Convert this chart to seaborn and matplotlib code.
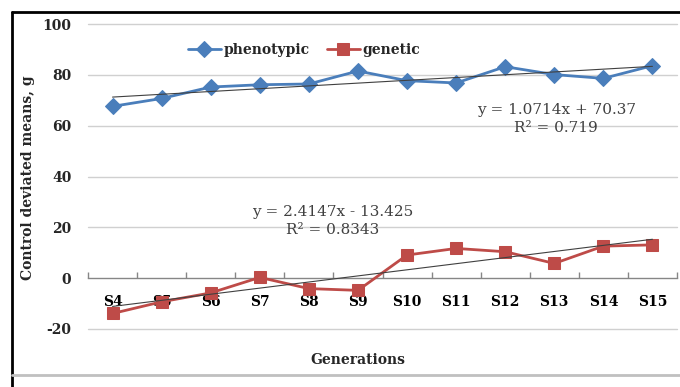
import numpy as np
import pandas as pd
import matplotlib
matplotlib.use("Agg")
import matplotlib.pyplot as plt
from matplotlib.lines import Line2D
import seaborn as sns

generations = ["S4", "S5", "S6", "S7", "S8", "S9", "S10", "S11", "S12", "S13", "S14", "S15"]
phenotypic = [67.6, 70.7, 75.2, 76.1, 76.4, 81.5, 77.7, 76.8, 83.2, 80.1, 78.6, 83.6]
genetic = [-13.9, -9.3, -5.8, 0.3, -4.1, -4.8, 9.1, 11.7, 10.4, 5.8, 12.6, 13.1]
yticks = [-20, 0, 20, 40, 60, 80, 100]

sns.set_theme(style="white")
plt.rcParams["font.family"] = ["DejaVu Serif"]

blue = "#4A7EBB"
red = "#BE4B48"

fig = plt.figure(figsize=(6.8, 3.87), dpi=100)
ax = fig.add_axes([88/680, (387-329)/387, 589/680, 305/387])

xpos = np.arange(len(generations))
df = pd.DataFrame({"x": xpos, "phenotypic": phenotypic, "genetic": genetic})

for yv in yticks:
    if yv == 0:
        continue
    ax.axhline(yv, color="#D0D0D0", lw=1.0, zorder=0, clip_on=False)

sns.lineplot(data=df, x="x", y="phenotypic", ax=ax, color=blue, marker="D",
             markersize=8, markeredgecolor=blue, linewidth=2.0, label="phenotypic", zorder=3)
sns.lineplot(data=df, x="x", y="genetic", ax=ax, color=red, marker="s",
             markersize=8, markeredgecolor=red, linewidth=2.0, label="genetic", zorder=3)
sns.regplot(data=df, x="x", y="phenotypic", ax=ax, scatter=False, ci=None,
            line_kws=dict(color="#404040", lw=0.8, zorder=4))
sns.regplot(data=df, x="x", y="genetic", ax=ax, scatter=False, ci=None,
            line_kws=dict(color="#404040", lw=0.8, zorder=4))

ax.set_xlim(-0.5, len(generations) - 0.5)
ax.set_ylim(-20, 100)
ax.set_yticks(yticks)
ax.set_yticklabels([str(v) for v in yticks])
ax.set_xticks(xpos)
ax.set_xticklabels(generations)
ax.set_xticks(np.arange(-0.5, len(generations), 1.0), minor=True)
ax.tick_params(axis="x", which="major", length=0, pad=12, colors="#000000")
ax.tick_params(axis="x", which="minor", length=4, direction="in", color="#868686", bottom=True)
ax.tick_params(axis="y", length=0, pad=12)
ax.set_xlabel("")
ax.set_ylabel("")

for s in ["top", "right", "left"]:
    ax.spines[s].set_visible(False)
ax.spines["bottom"].set_position(("data", 0))
ax.spines["bottom"].set_color("#868686")
ax.spines["bottom"].set_linewidth(1.0)

ax.legend(loc="center", bbox_to_anchor=(0.367, 0.915), ncol=2, frameon=False,
          handlelength=2.4, columnspacing=1.2, handletextpad=0.2,
          prop=dict(weight="bold", size=10))

ax.text(0.795, 0.689, "y = 1.0714x + 70.37\nR\u00b2 = 0.719", transform=ax.transAxes,
        ha="center", va="center", fontsize=11, color="#404040", linespacing=1.4)
ax.text(0.416, 0.354, "y = 2.4147x - 13.425\nR\u00b2 = 0.8343", transform=ax.transAxes,
        ha="center", va="center", fontsize=11, color="#404040", linespacing=1.4)

fig.text(28/680, 1 - 178/387, "Control deviated means, g", rotation=90,
         ha="center", va="center", fontweight="bold", fontsize=10)
fig.text(358/680, 1 - 360/387, "Generations", ha="center", va="center",
         fontweight="bold", fontsize=10)

fig.add_artist(Line2D([12/680, 1], [1 - 12/387, 1 - 12/387], color="black", lw=2, transform=fig.transFigure))
fig.add_artist(Line2D([12/680, 12/680], [0, 1 - 12/387], color="black", lw=2, transform=fig.transFigure))
fig.add_artist(Line2D([12/680, 1], [1 - 375/387, 1 - 375/387], color="#C0C0C0", lw=2, transform=fig.transFigure))

for lab in ax.get_xticklabels(which="major") + ax.get_yticklabels():
    lab.set_fontweight("bold")
    lab.set_fontsize(10)

fig.savefig("out.png", dpi=100)
